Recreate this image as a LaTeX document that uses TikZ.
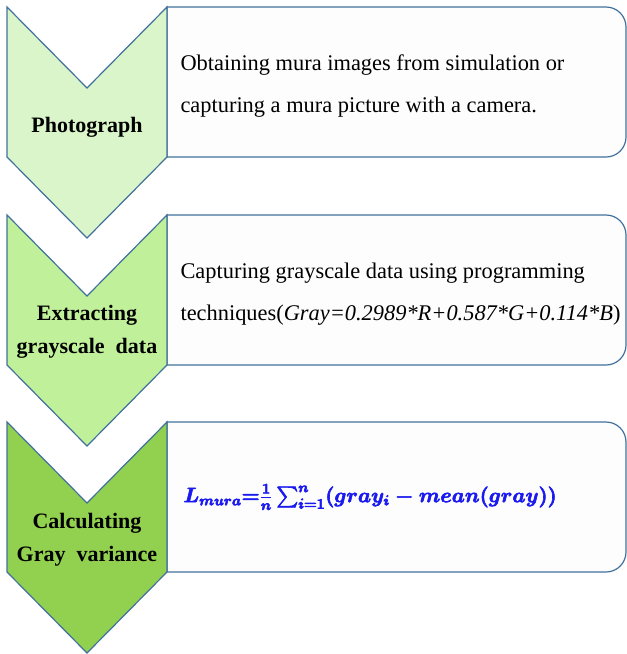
\documentclass[tikz,border=0pt]{standalone}
\usepackage{amsmath}
\usepackage{fontspec}
\setmainfont{Liberation Serif}
\usetikzlibrary{positioning, calc}

\definecolor{edgeblue}{HTML}{41719C}
\definecolor{stepone}{HTML}{DAF5C9}
\definecolor{steptwo}{HTML}{C0F19A}
\definecolor{stepthree}{HTML}{92D050}
\definecolor{boxfill}{HTML}{FDFDFD}
\definecolor{mathblue}{HTML}{1A1AF0}

% heavier strokes for the formula glyphs
\newcommand{\heavytext}[1]{\special{pdf:literal direct 2 Tr 0.6 w}#1\special{pdf:literal direct 0 Tr}}

\tikzset{
    chevron/.style={draw=edgeblue, line width=1.2pt, line join=miter},
    infobox/.style={draw=edgeblue, line width=1.2pt, fill=boxfill},
    steplabel/.style={align=center, font=\fontsize{22}{33}\selectfont\bfseries},
    infotext/.style={right, align=left, font=\fontsize{22.4}{42}\selectfont},
    mathtext/.style={right, text=mathblue, font=\fontsize{22}{26}\selectfont\boldmath}
}

\begin{document}
\begin{tikzpicture}[x=1pt, y=-1pt]
        \useasboundingbox (0,0) rectangle (627,654);

        % Top corners of the three steps
        \coordinate (S1) at (7, 7);
        \coordinate (S2) at (7, 215);
        \coordinate (S3) at (7, 422);

        % Description boxes (square on the left, round on the right)
        \draw [infobox] (167,7) [rounded corners=20pt] -- (626,7) -- (626,157) [sharp corners] -- (167,157) -- cycle;
        \draw [infobox] (167,215) [rounded corners=20pt] -- (626,215) -- (626,365) [sharp corners] -- (167,365) -- cycle;
        \draw [infobox] (167,422) [rounded corners=20pt] -- (626,422) -- (626,572) [sharp corners] -- (167,572) -- cycle;

        % Chevron arrows on the left
        \draw [chevron, fill=stepone] (S1) -- ++(80,81) -- ++(80,-81) -- ++(0,150) -- ++(-80,81) -- ++(-80,-81) -- cycle;
        \draw [chevron, fill=steptwo] (S2) -- ++(80,81) -- ++(80,-81) -- ++(0,150) -- ++(-80,81) -- ++(-80,-81) -- cycle;
        \draw [chevron, fill=stepthree] (S3) -- ++(80,81) -- ++(80,-81) -- ++(0,150) -- ++(-80,81) -- ++(-80,-81) -- cycle;

        % Step names
        \node [steplabel] (photo) at (87, 127) {Photograph};
        \node [steplabel] (extract) at (87, 332) {Extracting\\grayscale\ \ data};
        \node [steplabel] (calc) at (87, 540) {Calculating\\Gray\ \ variance};

        % Step descriptions
        \node [infotext] (photoText) at (177, 86) {Obtaining mura images from simulation or\\capturing a mura picture with a camera.};
        \node [infotext] (extractText) at (177, 294) {Capturing grayscale data using programming\\techniques(\textit{Gray=0.2989*R+0.587*G+0.114*B})};
        \node [mathtext] (calcText) at (180, 497) {\heavytext{$L_{mura}{=}\frac{1}{n}\sum_{i=1}^{n}(gray_i-mean(gray))$}};
    \end{tikzpicture}
\end{document}
